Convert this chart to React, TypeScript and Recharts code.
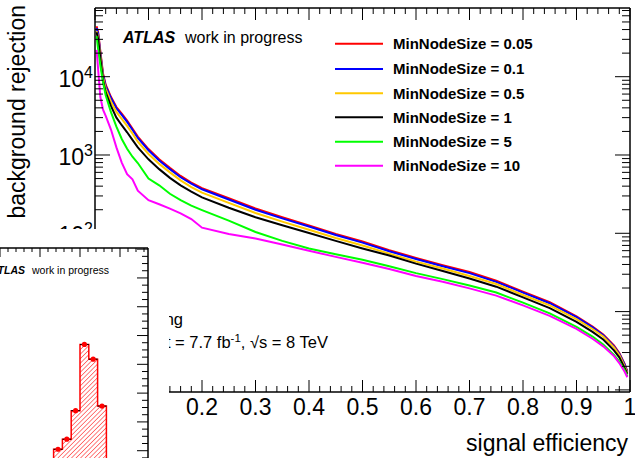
import React from 'react';
import { LineChart, Line, XAxis, YAxis, ComposedChart, Area, Scatter, ErrorBar } from 'recharts';

const FONT = "'Liberation Sans', Arial, Helvetica, sans-serif";

// signal efficiency grid
const effGrid = [0.003, 0.006, 0.01, 0.015, 0.02, 0.03, 0.04, 0.05, 0.06, 0.07, 0.08, 0.1, 0.12, 0.14, 0.16, 0.18, 0.2, 0.25, 0.3, 0.35, 0.4, 0.45, 0.5, 0.55, 0.6, 0.65, 0.7, 0.75, 0.8, 0.85, 0.9, 0.93, 0.95, 0.97, 0.98, 0.99, 0.995];

// background rejection per MinNodeSize setting
const rej005 = [44000, 36500, 21000, 11000, 7900, 5500, 4100, 3380, 2760, 2180, 1720, 1190, 880, 685, 540, 445, 378, 280, 207, 160, 126, 98, 78.5, 61, 48.5, 39.2, 32, 24.8, 18, 13.2, 8.7, 6.45, 5.1, 3.7, 2.95, 2.15, 1.72];
const rej01 = [42000, 35000, 20000, 10500, 7600, 5300, 3950, 3250, 2650, 2100, 1650, 1150, 850, 660, 520, 430, 365, 270, 200, 155, 122, 95, 76, 59, 47, 38, 31, 24, 17.5, 12.8, 8.5, 6.3, 5.0, 3.6, 2.9, 2.1, 1.7];
const rej05 = [38000, 32000, 18500, 9800, 7000, 4800, 3550, 2900, 2350, 1880, 1480, 1030, 770, 600, 475, 390, 330, 245, 182, 141, 111, 87, 70, 55, 43.5, 35.5, 28.5, 22.5, 16.3, 12, 8.0, 6.0, 4.8, 3.5, 2.8, 2.0, 1.65];
const rej1 = [37000, 30000, 17000, 9000, 6300, 4200, 3000, 2400, 1950, 1560, 1250, 880, 660, 510, 410, 340, 288, 212, 160, 127, 101, 80, 64, 52, 41, 33, 26.5, 20.8, 15.2, 11.1, 7.4, 5.5, 4.4, 3.2, 2.6, 1.9, 1.6];
const rej5 = [33000, 22000, 14000, 8500, 5800, 3500, 2300, 1600, 1200, 950, 790, 500, 410, 320, 265, 226, 198, 145, 104, 80, 64, 54, 46, 38, 31, 26, 21.5, 17.5, 13, 9.5, 6.4, 4.8, 3.8, 2.8, 2.3, 1.8, 1.5];
const rej10 = [22000, 12000, 5500, 3800, 3150, 2100, 1250, 800, 570, 490, 350, 265, 235, 207, 180, 152, 118, 98, 86, 72, 60, 50, 42, 35, 28.5, 24, 19.8, 16, 12, 8.8, 6.0, 4.5, 3.6, 2.7, 2.2, 1.7, 1.45];

const seriesNames = ['MinNodeSize = 0.05', 'MinNodeSize = 0.1', 'MinNodeSize = 0.5', 'MinNodeSize = 1', 'MinNodeSize = 5', 'MinNodeSize = 10'];
const seriesKeys = ['s005', 's01', 's05', 's1', 's5', 's10'];
const seriesColors = ['#ff0000', '#0000ff', '#ffc800', '#000000', '#00ff00', '#ff00ff'];

const xTicks = [0, 0.02, 0.04, 0.06, 0.08, 0.1, 0.12, 0.14, 0.16, 0.18, 0.2, 0.22, 0.24, 0.26, 0.28, 0.3, 0.32, 0.34, 0.36, 0.38, 0.4, 0.42, 0.44, 0.46, 0.48, 0.5, 0.52, 0.54, 0.56, 0.58, 0.6, 0.62, 0.64, 0.66, 0.68, 0.7, 0.72, 0.74, 0.76, 0.78, 0.8, 0.82, 0.84, 0.86, 0.88, 0.9, 0.92, 0.94, 0.96, 0.98, 1];
const yTicks = [1, 2, 3, 4, 5, 6, 7, 8, 9, 10, 20, 30, 40, 50, 60, 70, 80, 90, 100, 200, 300, 400, 500, 600, 700, 800, 900, 1000, 2000, 3000, 4000, 5000, 6000, 7000, 8000, 9000, 10000, 20000, 30000, 40000, 50000, 60000, 70000];

// inset histogram
const histBinLow = [106, 117, 128, 139, 150, 161, 172, 183];
const histCounts = [50, 105, 140, 239, 469, 418, 255, 60];
const histBinWidth = 11;
const insetXTicks = [0, 10, 20, 30, 40, 50, 60, 70, 80, 90, 100, 110, 120, 130, 140, 150, 160, 170, 180, 190, 200, 210, 220, 230];
const insetYTicks = [0, 25, 50, 75, 100, 125, 150, 175, 200, 225, 250, 275, 300, 325, 350, 375, 400, 425, 450, 475, 500, 525, 550, 575, 600, 625, 650, 675, 700, 725, 750, 775, 800];

const data = effGrid.map((e, i) => ({
  eff: e,
  s005: rej005[i],
  s01: rej01[i],
  s05: rej05[i],
  s1: rej1[i],
  s5: rej5[i],
  s10: rej10[i],
}));

const histArea = histBinLow.map((x, i) => ({ x, y: histCounts[i] }));
histArea.push({ x: histBinLow[histBinLow.length - 1] + histBinWidth, y: histCounts[histCounts.length - 1] });
const histPoints = histBinLow.map((x, i) => ({ x: x + histBinWidth / 2, y: histCounts[i], ex: histBinWidth / 2 }));

const isMajorLin = (v: number) => Math.abs(v * 10 - Math.round(v * 10)) < 1e-6;
const isMajorLog = (v: number) => Math.abs(Math.log10(v) - Math.round(Math.log10(v))) < 1e-6;

const BottomTick = (p: any) => {
  const v = p.payload.value;
  const major = isMajorLin(v);
  const label = v === 1 ? '1' : v.toFixed(1);
  return (
    <g>
      <line x1={p.x} x2={p.x} y1={p.y} y2={p.y - (major ? 12 : 6)} stroke="#000" strokeWidth={1} />
      {major && v > 0 && (
        <text x={p.x} y={p.y + 23} textAnchor="middle" fontSize={23} fontFamily={FONT} fill="#000">{label}</text>
      )}
    </g>
  );
};

const TopTick = (p: any) => {
  const major = isMajorLin(p.payload.value);
  return <line x1={p.x} x2={p.x} y1={p.y} y2={p.y + (major ? 12 : 6)} stroke="#000" strokeWidth={1} />;
};

const LeftTick = (p: any) => {
  const v = p.payload.value;
  const major = isMajorLog(v);
  const exp = Math.round(Math.log10(v));
  return (
    <g>
      <line x1={p.x} x2={p.x + (major ? 15 : 8)} y1={p.y} y2={p.y} stroke="#000" strokeWidth={1} />
      {major && exp > 0 && (
        <text x={p.x - 2} y={p.y + 10} textAnchor="end" fontSize={23} fontFamily={FONT} fill="#000">
          {exp === 1 ? '10' : <>10<tspan dy={-9} fontSize={16}>{exp}</tspan></>}
        </text>
      )}
    </g>
  );
};

const RightTick = (p: any) => {
  const major = isMajorLog(p.payload.value);
  return <line x1={p.x} x2={p.x - (major ? 15 : 8)} y1={p.y} y2={p.y} stroke="#000" strokeWidth={1} />;
};

const InsetTopTick = (p: any) => {
  const major = p.payload.value % 50 === 0;
  return <line x1={p.x} x2={p.x} y1={p.y} y2={p.y + (major ? 9 : 4)} stroke="#000" strokeWidth={1} />;
};

const InsetRightTick = (p: any) => {
  const major = p.payload.value % 100 === 0;
  return <line x1={p.x} x2={p.x - (major ? 11 : 6)} y1={p.y} y2={p.y} stroke="#000" strokeWidth={1} />;
};

const legendRows = [43.7, 69, 93.3, 117.3, 141.7, 165.7];

export default function App() {
  return (
    <div style={{ position: 'fixed', left: 0, top: 0, width: 635, height: 458, overflow: 'hidden', background: '#fff', fontFamily: FONT }}>
      <div style={{ position: 'absolute', left: 0, top: 0 }}>
        <LineChart width={635} height={458} data={data} margin={{ top: 7, right: 4, bottom: 65, left: 94 }}>
          <XAxis dataKey="eff" type="number" domain={[0, 1]} allowDataOverflow ticks={xTicks} interval={0}
            height={1} tickSize={0} tickMargin={0} tick={(p: any) => <BottomTick {...p} />}
            axisLine={{ stroke: '#000', strokeWidth: 1.5 }} tickLine={false} />
          <XAxis xAxisId="top" orientation="top" dataKey="eff" type="number" domain={[0, 1]} allowDataOverflow ticks={xTicks} interval={0}
            height={1} tickSize={0} tickMargin={0} tick={(p: any) => <TopTick {...p} />}
            axisLine={{ stroke: '#000', strokeWidth: 1.5 }} tickLine={false} />
          <YAxis scale="log" type="number" domain={[0.94, 75400]} allowDataOverflow ticks={yTicks} interval={0}
            width={1} tickSize={0} tickMargin={0} tick={(p: any) => <LeftTick {...p} />}
            axisLine={{ stroke: '#000', strokeWidth: 1.5 }} tickLine={false} />
          <YAxis yAxisId="right" orientation="right" scale="log" type="number" domain={[0.94, 75400]} allowDataOverflow ticks={yTicks} interval={0}
            width={1} tickSize={0} tickMargin={0} tick={(p: any) => <RightTick {...p} />}
            axisLine={{ stroke: '#000', strokeWidth: 1.5 }} tickLine={false} />
          {seriesKeys.map((k, i) => (
            <Line key={k} dataKey={k} type="linear" stroke={seriesColors[i]} strokeWidth={2} dot={false} isAnimationActive={false} />
          ))}
        </LineChart>
      </div>

      <svg width={635} height={458} style={{ position: 'absolute', left: 0, top: 0, pointerEvents: 'none' }} fontFamily={FONT}>
        <text transform="translate(25,5) rotate(-90)" textAnchor="end" fontSize={23} fill="#000">background rejection</text>
        <text x={628} y={451} textAnchor="end" fontSize={23} fill="#000">signal efficiency</text>
        <text x={123} y={43} fontSize={16} fontWeight="bold" fontStyle="italic" fill="#000">ATLAS</text>
        <text x={185} y={43} fontSize={16} fill="#000">work in progress</text>
        {seriesNames.map((n, i) => (
          <g key={n}>
            <line x1={335} x2={383} y1={legendRows[i]} y2={legendRows[i]} stroke={seriesColors[i]} strokeWidth={2} />
            <text x={393} y={legendRows[i] + 5.3} fontSize={15} fontWeight="bold" fill="#000">{n}</text>
          </g>
        ))}
        <text x={183} y={325} textAnchor="end" fontSize={16.5} fill="#000">b-tagging</text>
        <text x={328} y={348} textAnchor="end" fontSize={16.5} fill="#000">
          ∫L dt = 7.7 fb<tspan dy={-6} fontSize={11.5}>-1</tspan><tspan dy={6}>, √s = 8 TeV</tspan>
        </text>
      </svg>

      <div style={{ position: 'absolute', left: 0, top: 229, width: 169, height: 229, background: '#fff', overflow: 'hidden' }}>
        <div style={{ position: 'absolute', left: -130, top: 0 }}>
          <ComposedChart width={300} height={300} margin={{ top: 18, right: 21, bottom: 49.5, left: 90 }}>
            <defs>
              <pattern id="hatch" width="3.2" height="3.2" patternUnits="userSpaceOnUse" patternTransform="rotate(45)">
                <line x1="0" y1="0" x2="0" y2="3.2" stroke="#ff0000" strokeWidth="1" />
              </pattern>
            </defs>
            <XAxis dataKey="x" orientation="top" type="number" domain={[0, 235]} allowDataOverflow ticks={insetXTicks} interval={0}
              height={1} tickSize={0} tickMargin={0} tick={(p: any) => <InsetTopTick {...p} />}
              axisLine={{ stroke: '#000', strokeWidth: 1.5 }} tickLine={false} />
            <YAxis dataKey="y" orientation="right" type="number" domain={[0, 804]} allowDataOverflow ticks={insetYTicks} interval={0}
              width={1} tickSize={0} tickMargin={0} tick={(p: any) => <InsetRightTick {...p} />}
              axisLine={{ stroke: '#000', strokeWidth: 1.5 }} tickLine={false} />
            <Area data={histArea} dataKey="y" type="stepAfter" stroke="#ff0000" strokeWidth={1.5} fill="url(#hatch)" fillOpacity={1} isAnimationActive={false} />
            <Scatter data={histPoints} dataKey="y" isAnimationActive={false}
              shape={(p: any) => <circle cx={p.cx} cy={p.cy} r={2.6} fill="#ff0000" />}>
              <ErrorBar dataKey="ex" direction="x" width={0} stroke="#000" strokeWidth={1} />
            </Scatter>
          </ComposedChart>
        </div>
        <svg width={169} height={229} style={{ position: 'absolute', left: 0, top: 0 }} fontFamily={FONT}>
          <text x={25} y={45} textAnchor="end" fontSize={10.5} fontWeight="bold" fontStyle="italic" fill="#000">ATLAS</text>
          <text x={32} y={45} fontSize={10.5} fill="#000">work in progress</text>
        </svg>
      </div>
    </div>
  );
}
